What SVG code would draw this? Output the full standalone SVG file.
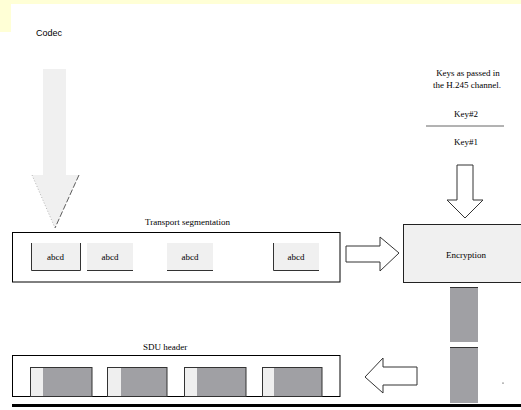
<svg xmlns="http://www.w3.org/2000/svg" width="521" height="410" viewBox="0 0 521 410">
<style>
text{font-family:"Liberation Serif","Times New Roman",serif;font-size:9px;fill:#000}
.sans{font-family:"Liberation Sans",Arial,sans-serif}
.box{fill:#fff;stroke:#000;stroke-width:1}
.seg{fill:#f0f0f0}
.hollow{fill:#fff;stroke:#333;stroke-width:1}
.dark{fill:#a0a0a4}
.light{fill:#efefef}
</style>
<rect width="521" height="410" fill="#fff"/>
<g id="banner">
<rect x="0" y="0" width="521" height="4" fill="#ffffd6"/>
<rect x="0" y="0" width="11" height="32" fill="#ffffd6"/>
</g>
<g id="codec">
<text class="sans" x="36" y="36">Codec</text>
</g>
<g id="connectors">
<!-- big gray arrow from codec -->
<polygon points="43,69 66,69 66,175 79,175 55,228 32,175 43,175" fill="#f0f0f0"/>
<line x1="79" y1="175" x2="55" y2="228" stroke="#333" stroke-width="0.8" stroke-dasharray="6,2"/>
<line x1="32" y1="175" x2="55" y2="228" stroke="#888" stroke-width="0.6" stroke-dasharray="1,2"/>
<!-- key down arrow -->
<polygon class="hollow" points="457,165 473,165 473,200 483,200 465,218 447,200 457,200"/>
<!-- right arrow to encryption -->
<polygon class="hollow" points="346,246 380,246 380,237 399,253 380,271 380,262 346,262"/>
<!-- left arrow to SDU -->
<polygon class="hollow" points="417,367 383,367 383,358 365,377 383,393 383,385 417,385"/>
</g>
<g id="transport">
<text x="145" y="225">Transport segmentation</text>
<rect class="box" x="12.5" y="232.5" width="327.5" height="49.5"/>
<g id="seg1">
<rect class="seg" x="31" y="243" width="49" height="27"/>
<path d="M31.5,243 V270.5 H80.5 V243" fill="none" stroke="#333"/>
<text x="55.5" y="260" text-anchor="middle">abcd</text>
</g>
<g id="seg2">
<rect class="seg" x="87" y="243" width="46" height="27"/>
<line x1="87" y1="270.5" x2="133" y2="270.5" stroke="#333"/>
<text x="110" y="260" text-anchor="middle">abcd</text>
</g>
<g id="seg3">
<rect class="seg" x="167" y="243" width="46" height="27"/>
<line x1="167" y1="270.5" x2="213" y2="270.5" stroke="#333"/>
<text x="190" y="260" text-anchor="middle">abcd</text>
</g>
<g id="seg4">
<rect class="seg" x="273" y="243" width="46" height="27"/>
<path d="M273.5,243 V270.5 H319" fill="none" stroke="#333"/>
<text x="296" y="260" text-anchor="middle">abcd</text>
</g>
</g>
<g id="keys">
<text x="468" y="76" text-anchor="middle">Keys as passed in</text>
<text x="467" y="88" text-anchor="middle">the H.245 channel.</text>
<text x="466" y="117" text-anchor="middle">Key#2</text>
<line x1="426" y1="126" x2="504" y2="126" stroke="#666" stroke-width="1"/>
<text x="466" y="145" text-anchor="middle">Key#1</text>
</g>
<g id="encryption">
<rect x="403.5" y="224.5" width="120" height="58" fill="#f0f0f0" stroke="#222" stroke-width="1"/>
<text x="466" y="258" text-anchor="middle">Encryption</text>
</g>
<g id="stream">
<rect class="dark" x="450" y="287" width="28" height="55"/>
<line x1="450" y1="287.5" x2="478" y2="287.5" stroke="#333"/>
<rect class="dark" x="450" y="347" width="28" height="56"/>
<line x1="450" y1="347.5" x2="478" y2="347.5" stroke="#333"/>
<circle cx="503" cy="383" r="0.6" fill="#000"/>
</g>
<g id="sdu">
<text x="143" y="350">SDU header</text>
<rect class="box" x="12.5" y="355.5" width="327.5" height="41"/>
<g id="sdu1"><rect class="light" x="30" y="367" width="13" height="29"/><rect class="dark" x="43" y="367" width="49" height="29"/><rect x="30.5" y="367.5" width="61.5" height="29" fill="none" stroke="#333"/></g>
<g id="sdu2"><rect class="light" x="107" y="367" width="14" height="29"/><rect class="dark" x="121" y="367" width="46" height="29"/><rect x="107.5" y="367.5" width="59.5" height="29" fill="none" stroke="#333"/></g>
<g id="sdu3"><rect class="light" x="184" y="367" width="13" height="29"/><rect class="dark" x="197" y="367" width="49" height="29"/><rect x="184.5" y="367.5" width="61.5" height="29" fill="none" stroke="#333"/></g>
<g id="sdu4"><rect class="light" x="262" y="367" width="12" height="29"/><rect class="dark" x="274" y="367" width="48" height="29"/><rect x="262.5" y="367.5" width="59.5" height="29" fill="none" stroke="#333"/></g>
</g>
<g id="baseline">
<rect x="12" y="404" width="509" height="3" fill="#000"/>
</g>
</svg>
